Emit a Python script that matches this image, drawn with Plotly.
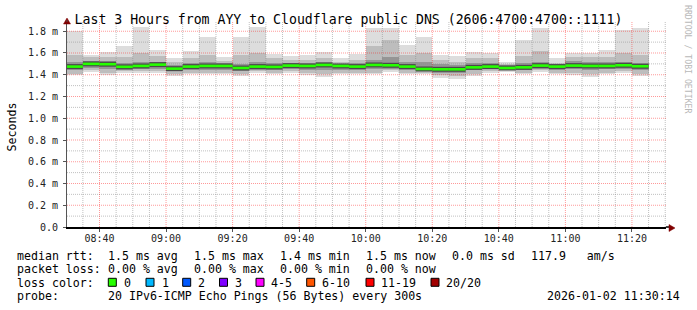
import plotly.graph_objects as go
import pandas as pd

# ---------------- data ----------------
DAY = "2026-01-02"
x_ticklabels = ["08:40", "09:00", "09:20", "09:40", "10:00", "10:20", "10:40", "11:00", "11:20"]
y_tickvals = [0.0, 0.2, 0.4, 0.6, 0.8, 1.0, 1.2, 1.4, 1.6, 1.8]
y_ticktext = ["0.0", "0.2 m", "0.4 m", "0.6 m", "0.8 m", "1.0 m", "1.2 m", "1.4 m", "1.6 m", "1.8 m"]

# 35 five-minute intervals, 08:30 .. 11:25 (milliseconds)
max_ = [1.806, 1.585, 1.607, 1.662, 1.837, 1.631, 1.558, 1.622, 1.745, 1.564, 1.745, 1.837,
        1.590, 1.570, 1.580, 1.610, 1.550, 1.590, 1.830, 1.830, 1.670, 1.750, 1.585, 1.570,
        1.610, 1.600, 1.520, 1.720, 1.830, 1.550, 1.600, 1.600, 1.630, 1.815, 1.830]
hi1 = [1.58, 1.56, 1.56, 1.56, 1.60, 1.57, 1.52, 1.55, 1.58, 1.53, 1.58, 1.60,
       1.55, 1.54, 1.54, 1.55, 1.52, 1.54, 1.66, 1.72, 1.58, 1.60, 1.54, 1.52,
       1.55, 1.55, 1.50, 1.57, 1.62, 1.51, 1.56, 1.56, 1.56, 1.60, 1.58]
hi2 = [1.52, 1.53, 1.53, 1.51, 1.52, 1.52, 1.49, 1.51, 1.52, 1.51, 1.50, 1.52,
       1.51, 1.51, 1.51, 1.52, 1.50, 1.51, 1.54, 1.56, 1.52, 1.52, 1.50, 1.49,
       1.51, 1.51, 1.49, 1.51, 1.52, 1.50, 1.53, 1.52, 1.52, 1.52, 1.51]
median = [1.475, 1.500, 1.497, 1.473, 1.481, 1.493, 1.456, 1.475, 1.481, 1.481, 1.462, 1.475,
          1.472, 1.484, 1.481, 1.490, 1.481, 1.475, 1.490, 1.487, 1.475, 1.453, 1.450, 1.450,
          1.468, 1.475, 1.462, 1.468, 1.484, 1.475, 1.484, 1.481, 1.481, 1.487, 1.478]
lo2 = [1.44, 1.46, 1.45, 1.44, 1.45, 1.45, 1.43, 1.44, 1.44, 1.44, 1.43, 1.44,
       1.44, 1.45, 1.44, 1.44, 1.44, 1.44, 1.45, 1.45, 1.44, 1.43, 1.42, 1.42,
       1.44, 1.45, 1.44, 1.44, 1.45, 1.44, 1.45, 1.44, 1.45, 1.45, 1.44]
lo1 = [1.41, 1.44, 1.42, 1.43, 1.43, 1.43, 1.41, 1.42, 1.42, 1.42, 1.41, 1.43,
       1.42, 1.43, 1.42, 1.41, 1.42, 1.42, 1.42, 1.44, 1.42, 1.42, 1.40, 1.39,
       1.41, 1.43, 1.44, 1.42, 1.44, 1.42, 1.42, 1.41, 1.42, 1.43, 1.41]
min_ = [1.395, 1.426, 1.395, 1.417, 1.417, 1.417, 1.385, 1.404, 1.410, 1.404, 1.389, 1.417,
        1.410, 1.417, 1.395, 1.380, 1.404, 1.404, 1.404, 1.426, 1.404, 1.410, 1.370, 1.361,
        1.385, 1.417, 1.426, 1.404, 1.426, 1.404, 1.395, 1.380, 1.410, 1.417, 1.385]

loss_labels = ["0", "1", "2", "3", "4-5", "6-10", "11-19", "20/20"]
loss_colors = ["#26ff00", "#00b8ff", "#0059ff", "#7e00ff", "#ff00ff", "#ff5500", "#ff0000", "#a10000"]

# ---------------- geometry helpers ----------------
W, H = 697, 310
PL, PT, PW, PH = 67, 22, 599, 205
YMAX = 1.885
X0 = pd.Timestamp(DAY + " 08:30:14")
X1 = pd.Timestamp(DAY + " 11:30:14")


def px(X):
    return (X - PL) / PW


def py(Y):
    return (PT + PH - Y) / PH


t0 = pd.Timestamp(DAY + " 08:30:00")
n = len(median)
edges = [t0 + pd.Timedelta(minutes=5 * i) for i in range(n + 1)]
centers = [e + pd.Timedelta(seconds=150) for e in edges[:-1]]
WIDTH_MS = 300000

fig = go.Figure()


def band(lo, hi, color):
    fig.add_trace(go.Bar(
        x=centers, y=[h - l for h, l in zip(hi, lo)], base=lo, width=WIDTH_MS,
        marker=dict(color=color, line=dict(width=0)), hoverinfo="skip", showlegend=False))


band(min_, max_, "#dddddd")
band(lo1, hi1, "#bdbdbd")
band(lo2, hi2, "#959595")

# ---------------- grid (drawn over the smoke, like rrdtool) ----------------
major_t = [pd.Timestamp(DAY + " " + s) for s in x_ticklabels]
minor_t = [t for t in pd.date_range(DAY + " 08:35", DAY + " 11:30", freq="5min") if t not in major_t]
minor_y = [0.1, 0.3, 0.5, 0.7, 0.9, 1.1, 1.3, 1.5, 1.7]
major_y = y_tickvals[1:]


def vlines(ts):
    xs, ys = [], []
    for t in ts:
        xs += [t, t, None]
        ys += [0, YMAX, None]
    return xs, ys


def hlines(vs):
    xs, ys = [], []
    for v in vs:
        xs += [X0, X1, None]
        ys += [v, v, None]
    return xs, ys


for (xs, ys), col in [(vlines(minor_t), "rgba(140,140,140,0.55)"),
                      (hlines(minor_y), "rgba(140,140,140,0.55)"),
                      (vlines(major_t), "rgba(255,0,0,0.40)"),
                      (hlines(major_y), "rgba(255,0,0,0.40)")]:
    fig.add_trace(go.Scatter(x=xs, y=ys, mode="lines", line=dict(color=col, width=1, dash="1px,1px"),
                             hoverinfo="skip", showlegend=False))

# ---------------- median line (one flat segment per interval) ----------------
seg_x, seg_y = [], []
for i, m in enumerate(median):
    seg_x += [edges[i], edges[i + 1], None]
    seg_y += [m, m, None]
fig.add_trace(go.Scatter(x=seg_x, y=seg_y, mode="lines", line=dict(color="#4a4a4a", width=5),
                         hoverinfo="skip", showlegend=False))
fig.add_trace(go.Scatter(x=seg_x, y=seg_y, mode="lines", line=dict(color=loss_colors[0], width=2.6),
                         hoverinfo="skip", showlegend=False))

MONO = "DejaVu Sans Mono"

fig.update_layout(
    width=W, height=H,
    margin=dict(l=PL, r=W - PL - PW, t=PT, b=H - PT - PH),
    paper_bgcolor="white", plot_bgcolor="white",
    barmode="overlay", bargap=0, showlegend=False,
    font=dict(family=MONO, size=10, color="#222"),
    title=dict(text="Last 3 Hours from AYY to Cloudflare public DNS (2606:4700:4700::1111)",
               x=0.5, xref="container", xanchor="center",
               y=1 - 19 / H, yref="container", yanchor="middle",
               font=dict(family=MONO, size=13.2, color="#000")),
    xaxis=dict(type="date", range=[X0, X1], showgrid=False, zeroline=False,
               tickvals=[pd.Timestamp(DAY + " " + s) for s in x_ticklabels], ticktext=x_ticklabels,
               ticks="outside", ticklen=3, tickcolor="#555", showline=True, linecolor="#000", linewidth=1.5,
               tickfont=dict(family=MONO, size=10, color="#222"), ticklabelstandoff=-2),
    yaxis=dict(range=[0, YMAX], showgrid=False, zeroline=False,
               tickvals=y_tickvals, ticktext=y_ticktext,
               ticks="outside", ticklen=3, tickcolor="#555", showline=True, linecolor="#555", linewidth=1,
               tickfont=dict(family=MONO, size=10, color="#222"), ticklabelstandoff=3),
)

# axis extensions and arrows
fig.add_shape(type="line", xref="paper", yref="paper", x0=1, x1=px(670), y0=0, y1=0,
              line=dict(color="#000", width=1.5))
fig.add_shape(type="path", xref="paper", yref="paper",
              path=f"M {px(669)} {py(224.5)} L {px(675)} {py(228)} L {px(669)} {py(231.5)} Z",
              fillcolor="#800000", line=dict(color="#800000", width=0.5))
fig.add_shape(type="path", xref="paper", yref="paper",
              path=f"M {px(63.5)} {py(24)} L {px(67)} {py(18)} L {px(70.5)} {py(24)} Z",
              fillcolor="#800000", line=dict(color="#800000", width=0.5))
fig.add_shape(type="line", xref="paper", yref="paper", x0=0, x1=0, y0=1, y1=py(20),
              line=dict(color="#555", width=1))

# y axis title
fig.add_annotation(text="Seconds", xref="paper", yref="paper", x=px(11), y=py(127.5),
                   textangle=-90, showarrow=False, xanchor="center", yanchor="middle",
                   font=dict(family=MONO, size=11.6, color="#000"))
# watermark
fig.add_annotation(text="RRDTOOL / TOBI OETIKER", xref="paper", yref="paper", x=px(688), y=py(59),
                   textangle=90, showarrow=False, xanchor="center", yanchor="middle",
                   font=dict(family=MONO, size=8.2, color="#b8b8b8"))


def txt(s, X, Y, anchor="left"):
    fig.add_annotation(text=s, xref="paper", yref="paper", x=px(X), y=py(Y), showarrow=False,
                       xanchor=anchor, yanchor="middle", borderpad=0,
                       font=dict(family=MONO, size=11.6, color="#000"))


# legend lines
txt("median rtt:", 15.5, 255.5)
for s, X in [("1.5 ms avg", 106.5), ("1.5 ms max", 192.5), ("1.4 ms min", 278.5),
             ("1.5 ms now", 364.5), ("0.0 ms sd", 451), ("117.9   am/s", 529.5)]:
    txt(s, X, 255.5)
txt("packet loss:", 15.5, 268.8)
for s, X in [("0.00 % avg", 106.5), ("0.00 % max", 193), ("0.00 % min", 278.5), ("0.00 % now", 364.5)]:
    txt(s, X, 268.8)
txt("loss color:", 15.5, 282.5)
sq_left = [108.3, 146, 182.7, 219.5, 256, 306.7, 366, 431]
lab_left = [122.5, 160.5, 196.5, 233.5, 270, 321, 380, 444.5]
for lab, col, sl, ll in zip(loss_labels, loss_colors, sq_left, lab_left):
    fig.add_shape(type="rect", xref="paper", yref="paper", x0=px(sl), x1=px(sl + 8), y0=py(286.3), y1=py(278.3),
                  fillcolor=col, line=dict(color="#000", width=1))
    txt(lab, ll, 282.5)
txt("probe:", 15.5, 296.3)
txt("20 IPv6-ICMP Echo Pings (56 Bytes) every 300s", 106.5, 296.3)
txt("2026-01-02 11:30:14", 681.5, 296.3, anchor="right")

fig.write_html("out.html")
